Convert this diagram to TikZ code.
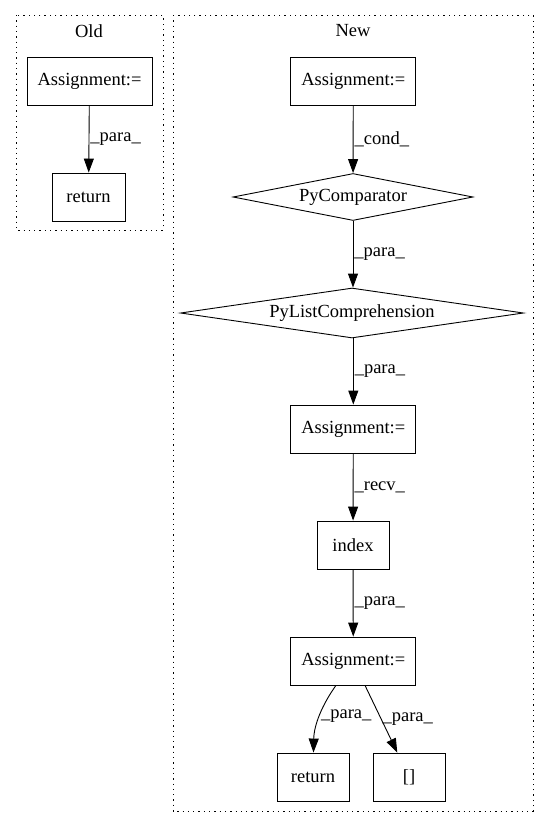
\documentclass[tikz,border=0pt]{standalone}
\usepackage{fontspec}
\setmainfont{Liberation Serif}
\usetikzlibrary{arrows.meta,shapes.geometric}
\begin{document}
\begin{tikzpicture}[x=1pt,y=-1pt,
  every node/.style={font=\fontsize{18.5}{20}\selectfont},
  box/.style={draw, line width=0.9pt, rectangle, inner sep=0pt, minimum height=48pt},
  dia/.style={draw, line width=0.9pt, diamond, inner sep=0pt},
  edge/.style={line width=0.9pt, -{Triangle[length=14pt,width=10pt]}},
  lbl/.style={anchor=west, inner sep=1pt},
  cluster/.style={line width=1pt, dash pattern=on 1.3pt off 4pt}]
\useasboundingbox (0,0) rectangle (549,828);
% clusters
\draw[cluster] (16,15) rectangle (163,230);
\draw[cluster] (173,15) rectangle (533,811);
\node (oldlbl) at (89,31) {Old};
\node (newlbl) at (353,31) {New};
% Old
\node[box, minimum width=125pt] (oa) at (89.5,81) {Assignment:=};
\node[box, minimum width=73pt] (or) at (88.5,197) {return};
\draw[edge] (oa) -- node[lbl]{\_para\_} (or);
% New
\node[box, minimum width=125pt] (a1) at (353.3,81) {Assignment:=};
\node[dia, minimum width=240pt, minimum height=47pt, aspect=5.1] (pc) at (353,197) {PyComparator};
\node[dia, minimum width=343pt, minimum height=50pt, aspect=6.86] (plc) at (352,313) {PyListComprehension};
\node[box, minimum width=125pt] (a2) at (353.3,429) {Assignment:=};
\node[box, minimum width=72pt] (ix) at (353,545) {index};
\node[box, minimum width=125pt] (a3) at (353.3,661) {Assignment:=};
\node[box, minimum width=72pt] (rt) at (313,777) {return};
\node[box, minimum width=72pt] (br) at (409,777) {[]};
\draw[edge] (a1) -- node[lbl]{\_cond\_} (pc);
\draw[edge] (pc.south) -- node[lbl]{\_para\_} (plc.north -| pc.south);
\draw[edge] (plc.south -| a2.north) -- node[lbl]{\_para\_} (a2.north);
\draw[edge] (a2) -- node[lbl]{\_recv\_} (ix);
\draw[edge] (ix) -- node[lbl]{\_para\_} (a3);
\draw[edge] (a3) .. controls (322,705) and (314,725) .. node[lbl, pos=0.5]{\_para\_} (rt);
\draw[edge] (a3) -- node[lbl]{\_para\_} (br);
\end{tikzpicture}
\end{document}
